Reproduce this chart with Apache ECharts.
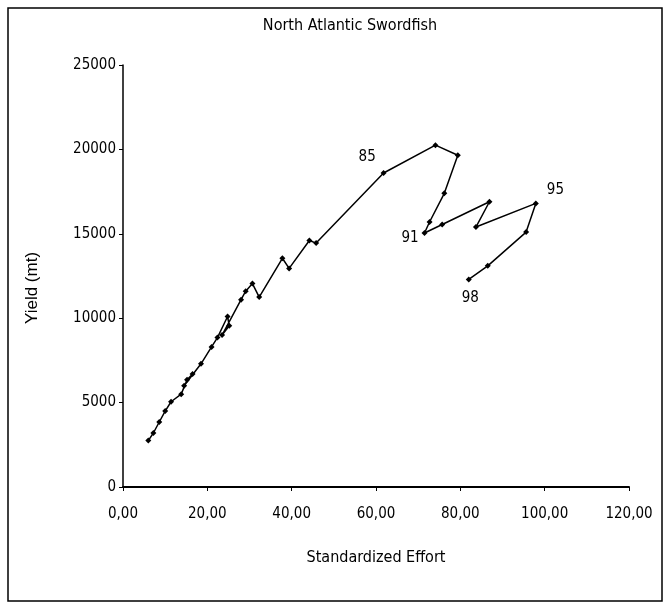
<!DOCTYPE html>
<html><head><meta charset="utf-8">
<script src="https://cdn.jsdelivr.net/npm/echarts@6/dist/echarts.min.js"></script>
<style>html,body{margin:0;padding:0;background:#fff}#c{width:665px;height:604px}</style>
</head><body><div id="c"></div>
<script>
const effort = [6.0,7.2,8.6,10.0,11.4,13.8,15.2,16.5,14.5,18.5,21.0,22.4,24.8,25.2,23.5,28.0,29.1,30.7,32.3,37.8,39.4,44.2,45.8,61.8,74.1,79.4,76.2,72.7,71.5,75.7,86.9,83.7,97.9,95.6,86.5,82.0];
const yieldMt = [2750,3200,3850,4500,5050,5500,6350,6700,6000,7300,8300,8850,10100,9550,9000,11100,11600,12050,11250,13550,12950,14600,14450,18600,20250,19650,17400,15700,15050,15550,16900,15400,16800,15100,13100,12300];
const yearLabels = {23:'85', 28:'91', 32:'95', 35:'98'};
const labelPos = {23:[-22,-20], 28:[-20,1], 32:[14,-18], 35:[-4,14]};
const xTicks = [0,20,40,60,80,100,120];
const yTicks = [0,5000,10000,15000,20000,25000];

const font = '"Liberation Sans Narrow","DejaVu Sans Condensed","Liberation Sans",Arial,sans-serif';
const data = effort.map((x,i)=>{
  const d = {value:[x,yieldMt[i]]};
  if (yearLabels[i]) d.label = {show:true, formatter:yearLabels[i], position:labelPos[i], fontFamily:font, fontSize:15, color:'#000'};
  return d;
});
const chart = echarts.init(document.getElementById('c'));
chart.setOption({
  animation:false,
  backgroundColor:'#fff',
  title:{text:'North Atlantic Swordfish', left:345, top:13, textAlign:'center',
    textStyle:{fontFamily:font, fontSize:16, fontWeight:'normal', color:'#000'}},
  grid:{left:123, right:36, top:65, bottom:117},
  xAxis:{type:'value', min:xTicks[0], max:xTicks[xTicks.length-1], interval:xTicks[1]-xTicks[0],
    name:'Standardized Effort', nameLocation:'middle', nameGap:63,
    nameTextStyle:{fontFamily:font, fontSize:16, color:'#000'},
    axisLine:{lineStyle:{color:'#000', width:2}},
    axisTick:{show:true, length:4, lineStyle:{color:'#000'}},
    axisLabel:{formatter:v=>v.toFixed(2).replace('.', ','), fontFamily:font, fontSize:15, color:'#000', margin:20},
    splitLine:{show:false}},
  yAxis:{type:'value', min:yTicks[0], max:yTicks[yTicks.length-1], interval:yTicks[1]-yTicks[0],
    name:'Yield (mt)', nameLocation:'middle', nameGap:82, nameRotate:90,
    nameTextStyle:{fontFamily:'"Liberation Sans",Arial,sans-serif', fontSize:17, color:'#000', padding:[0,0,0,-24]},
    axisLine:{show:true, lineStyle:{color:'#000', width:1.5}},
    axisTick:{show:true, length:4, lineStyle:{color:'#000'}},
    axisLabel:{formatter:v=>String(v), fontFamily:font, fontSize:15, color:'#000', margin:7},
    splitLine:{show:false}},
  graphic:[{type:'rect', shape:{x:8,y:8,width:654,height:593}, style:{fill:'none', stroke:'#000', lineWidth:1.5}, silent:true}],
  series:[{type:'line', data:data, symbol:'diamond', symbolSize:6,
    lineStyle:{color:'#000', width:1.5}, itemStyle:{color:'#000'}}]
});
</script></body></html>
